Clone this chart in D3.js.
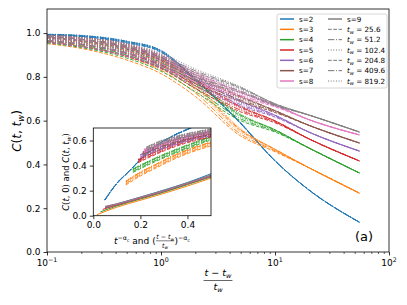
<!DOCTYPE html>
<html>
<head>
<meta charset="utf-8">
<script src="https://cdn.jsdelivr.net/npm/d3@7"></script>
<style>
body { margin: 0; background: #fff; }
text { font-family: "DejaVu Sans", sans-serif; white-space: pre; }
</style>
</head>
<body>
<svg id="chart" width="407" height="305"></svg>
<script>
// series names
const sLabels = ["s=2", "s=3", "s=4", "s=5", "s=6", "s=7", "s=8", "s=9"];
const twValues = ["25.6", "51.2", "102.4", "204.8", "409.6", "819.2"];

// main panel: C(t,tw) vs (t-tw)/tw, read at these x values (largest tw curve)
const xGrid = [0.1, 0.2, 0.5, 1, 2, 5, 10, 20, 55];
const mainC = [
  [0.995, 0.99, 0.964, 0.922, 0.792, 0.590, 0.417, 0.282, 0.136],
  [0.99, 0.979, 0.943, 0.886, 0.771, 0.563, 0.469, 0.384, 0.269],
  [0.99, 0.979, 0.946, 0.891, 0.787, 0.630, 0.558, 0.474, 0.361],
  [0.99, 0.979, 0.948, 0.896, 0.797, 0.667, 0.599, 0.516, 0.416],
  [0.99, 0.979, 0.948, 0.899, 0.807, 0.693, 0.625, 0.547, 0.461],
  [0.99, 0.979, 0.950, 0.902, 0.818, 0.714, 0.646, 0.578, 0.498],
  [0.99, 0.979, 0.951, 0.905, 0.826, 0.735, 0.672, 0.604, 0.535],
  [0.99, 0.979, 0.953, 0.908, 0.836, 0.755, 0.677, 0.625, 0.548]
];
// how far each smaller tw curve sits below the largest tw one
const twDrop = [
  [-0.035, -0.045, -0.060, -0.065, -0.055, -0.030, -0.010, 0, 0],
  [-0.026, -0.034, -0.046, -0.050, -0.040, -0.022, -0.006, 0, 0],
  [-0.018, -0.025, -0.034, -0.036, -0.028, -0.014, -0.003, 0, 0],
  [-0.011, -0.016, -0.022, -0.024, -0.018, -0.008, 0, 0, 0],
  [-0.005, -0.008, -0.011, -0.012, -0.009, -0.004, 0, 0, 0],
  [0, 0, 0, 0, 0, 0, 0, 0, 0]
];
const sSpread = [0.15, 1.1, 1.0, 0.9, 0.9, 0.9, 0.9, 0.9];

// inset, upper group: C(t,tw) vs ((t-tw)/tw)^-ac
const insUpX = [
  [0.049, 0.1, 0.155, 0.2, 0.268, 0.35, 0.41, 0.5],
  [0.138, 0.2, 0.268, 0.35, 0.41, 0.5],
  [0.168, 0.25, 0.337, 0.42, 0.5],
  [0.19, 0.27, 0.35, 0.43, 0.5],
  [0.2, 0.28, 0.36, 0.44, 0.5],
  [0.21, 0.28, 0.36, 0.44, 0.5],
  [0.215, 0.28, 0.36, 0.44, 0.5],
  [0.226, 0.28, 0.36, 0.44, 0.5]
];
const insUpY = [
  [0.128, 0.26, 0.362, 0.45, 0.56, 0.65, 0.70, 0.78],
  [0.278, 0.35, 0.415, 0.49, 0.535, 0.59],
  [0.375, 0.45, 0.52, 0.58, 0.635],
  [0.45, 0.52, 0.58, 0.625, 0.655],
  [0.49, 0.55, 0.60, 0.64, 0.665],
  [0.51, 0.565, 0.615, 0.652, 0.675],
  [0.53, 0.58, 0.628, 0.663, 0.685],
  [0.55, 0.595, 0.64, 0.673, 0.695]
];
const insTwDrop = [-0.03, -0.022, -0.015, -0.008, -0.003, 0];

// inset, lower group: C(t,0) vs t^-ac
const insLoX = [
  [0.05, 0.1, 0.2, 0.3, 0.4, 0.5],
  [0.015, 0.1, 0.2, 0.3, 0.4, 0.5],
  [0.03, 0.1, 0.2, 0.3, 0.4, 0.5],
  [0.04, 0.1, 0.2, 0.3, 0.4, 0.5],
  [0.05, 0.1, 0.2, 0.3, 0.4, 0.5],
  [0.05, 0.1, 0.2, 0.3, 0.4, 0.5],
  [0.05, 0.1, 0.2, 0.3, 0.4, 0.5],
  [0.05, 0.1, 0.2, 0.3, 0.4, 0.5]
];
const insLoY = [
  [0.062, 0.092, 0.148, 0.205, 0.265, 0.335],
  [0.008, 0.068, 0.123, 0.178, 0.237, 0.300],
  [0.030, 0.078, 0.133, 0.188, 0.248, 0.310],
  [0.050, 0.085, 0.139, 0.194, 0.254, 0.315],
  [0.068, 0.090, 0.143, 0.197, 0.257, 0.318],
  [0.070, 0.092, 0.145, 0.199, 0.259, 0.320],
  [0.072, 0.094, 0.147, 0.200, 0.260, 0.322],
  [0.074, 0.096, 0.149, 0.202, 0.262, 0.325]
];

const xTicks = [0.1, 1, 10, 100];
const xTickExp = ["\u22121", "0", "1", "2"];
const yTicks = [0, 0.2, 0.4, 0.6, 0.8, 1.0];
const insXTicks = [0, 0.2, 0.4];
const insYTicks = [0, 0.2, 0.4, 0.6];

const colors = ["#1f77b4", "#ff7f0e", "#2ca02c", "#d62728", "#9467bd", "#8c564b", "#e377c2", "#7f7f7f"];
const twStyle = ["--", "-.", ":", "--", "-.", ":"];
const dashOf = { "--": "3.7,1.6", "-.": "6.4,1.6,1,1.6", ":": "1,1.65" };

const svg = d3.select("#chart");

const x = d3.scaleLog().domain([0.1, 100]).range([47, 389]);
const y = d3.scaleLinear().domain([0, 1.11]).range([252, 9]);

// places a run of text pieces left to right, returns the end x
function seq(g, parts, x0, y0, size) {
  let cx = x0;
  parts.forEach(p => {
    const [str, it, sc, dy] = p;
    const t = g.append("text").attr("x", cx).attr("y", y0 + (dy || 0))
      .attr("font-size", size * (sc || 1)).text(str);
    if (it) t.attr("font-style", "italic");
    cx += t.node().getComputedTextLength();
  });
  return cx;
}

svg.append("clipPath").attr("id", "mainclip")
  .append("rect").attr("x", 47).attr("y", 9).attr("width", 342).attr("height", 243);

// main curves
const line = d3.line().x(d => x(d[0])).y(d => y(d[1])).curve(d3.curveMonotoneX);
const mainG = svg.append("g").attr("clip-path", "url(#mainclip)");
mainC.forEach((vals, i) => {
  twDrop.forEach((drop, j) => {
    const pts = xGrid.map((xv, k) => [xv, vals[k] + drop[k] * sSpread[i]]);
    mainG.append("path").attr("d", line(pts))
      .attr("fill", "none").attr("stroke", colors[i]).attr("stroke-width", 0.9)
      .attr("stroke-dasharray", dashOf[twStyle[j]]);
  });
});

// main axes
const minor = [];
[0.1, 1, 10].forEach(dec => d3.range(2, 10).forEach(m => minor.push(m * dec)));
svg.append("g").attr("transform", "translate(0,252)")
  .call(d3.axisBottom(x).tickValues(minor).tickSize(2).tickFormat(""))
  .call(g => g.select(".domain").remove())
  .call(g => g.selectAll("line").attr("stroke-width", 0.6));
svg.append("g").attr("transform", "translate(0,252)")
  .call(d3.axisBottom(x).tickValues(xTicks).tickSize(3.5).tickFormat(""))
  .call(g => g.select(".domain").remove())
  .call(g => g.selectAll("line").attr("stroke-width", 0.8));
xTicks.forEach((v, i) => {
  const g = svg.append("g");
  const end = seq(g, [["10"], [xTickExp[i], false, 0.7, -4]], 0, 266, 9);
  g.attr("transform", `translate(${x(v) - end / 2},0)`);
});
svg.append("g").attr("transform", "translate(47,0)")
  .call(d3.axisLeft(y).tickValues(yTicks).tickSize(3.5).tickPadding(3)
    .tickFormat(d3.format(".1f")))
  .call(g => g.select(".domain").remove())
  .call(g => g.selectAll("line").attr("stroke-width", 0.8))
  .call(g => g.selectAll("text").attr("font-size", 9).attr("font-family", "DejaVu Sans").attr("fill", "#000"));
svg.append("rect").attr("x", 47).attr("y", 9).attr("width", 342).attr("height", 243)
  .attr("fill", "none").attr("stroke", "#000").attr("stroke-width", 0.8);

// y label
{
  const g = svg.append("g").attr("transform", "translate(21,131) rotate(-90)");
  const inner = g.append("g");
  const end = seq(inner, [["C", true], ["("], ["t", true], [", "], ["t", true],
    ["w", true, 0.7, 2.5], [")"]], 0, 0, 12);
  inner.attr("transform", `translate(${-end / 2},0)`);
}
// x label fraction
{
  const cx = 218;
  const num = svg.append("g");
  const w1 = seq(num, [["t", true], [" \u2212 "], ["t", true], ["w", true, 0.7, 2]], 0, 276, 9.5);
  num.attr("transform", `translate(${cx - w1 / 2},0)`);
  const den = svg.append("g");
  const w2 = seq(den, [["t", true], ["w", true, 0.7, 2]], 0, 290, 9.5);
  den.attr("transform", `translate(${cx - w2 / 2},0)`);
  svg.append("line").attr("x1", cx - w1 / 2 - 1).attr("x2", cx + w1 / 2 + 1)
    .attr("y1", 280.5).attr("y2", 280.5).attr("stroke", "#000").attr("stroke-width", 0.6);
}

// (a)
svg.append("text").attr("x", 364).attr("y", 241).attr("text-anchor", "middle")
  .attr("font-size", 13).text("(a)");

// legend
{
  const lg = svg.append("g");
  lg.append("rect").attr("x", 277).attr("y", 14).attr("width", 110).attr("height", 74)
    .attr("rx", 2).attr("fill", "#fff").attr("fill-opacity", 0.8)
    .attr("stroke", "#cccccc").attr("stroke-width", 0.8);
  const rowY = d3.scaleLinear().domain([0, 6]).range([19, 81]);
  sLabels.forEach((lab, i) => {
    const col = i < 7 ? 0 : 1;
    const r = i < 7 ? i : 0;
    const lx = col === 0 ? 280 : 328;
    lg.append("line").attr("x1", lx).attr("x2", lx + 14).attr("y1", rowY(r)).attr("y2", rowY(r))
      .attr("stroke", colors[i]).attr("stroke-width", 1.5);
    lg.append("text").attr("x", lx + 19).attr("y", rowY(r) + 2.6).attr("font-size", 7.2).text(lab);
  });
  twValues.forEach((tw, j) => {
    const r = j + 1;
    lg.append("line").attr("x1", 328).attr("x2", 342).attr("y1", rowY(r)).attr("y2", rowY(r))
      .attr("stroke", "#777").attr("stroke-width", 1)
      .attr("stroke-dasharray", dashOf[twStyle[j]]);
    seq(lg, [["t", true], ["w", true, 0.7, 1.6], [" = " + tw]], 347, rowY(r) + 2.6, 7.2);
  });
}

// inset
const ix = d3.scaleLinear().domain([0, 0.5]).range([93.3, 211]);
const iy = d3.scaleLinear().domain([0, 0.7]).range([215.7, 128]);
svg.append("rect").attr("x", 93.3).attr("y", 128).attr("width", 117.7).attr("height", 87.7)
  .attr("fill", "#fff");
svg.append("clipPath").attr("id", "insclip")
  .append("rect").attr("x", 93.3).attr("y", 128).attr("width", 117.7).attr("height", 87.7);
const iline = d3.line().x(d => ix(d[0])).y(d => iy(d[1])).curve(d3.curveMonotoneX);
const insG = svg.append("g").attr("clip-path", "url(#insclip)");
insLoX.forEach((xs, i) => {
  const pts = xs.map((xv, k) => [xv, insLoY[i][k]]);
  insG.append("path").attr("d", iline(pts)).attr("fill", "none")
    .attr("stroke", colors[i]).attr("stroke-width", 1);
});
insUpX.forEach((xs, i) => {
  insTwDrop.forEach((drop, j) => {
    const pts = xs.map((xv, k) => [xv, insUpY[i][k] + drop * sSpread[i]]);
    insG.append("path").attr("d", iline(pts)).attr("fill", "none")
      .attr("stroke", colors[i]).attr("stroke-width", 0.9)
      .attr("stroke-dasharray", dashOf[twStyle[j]]);
  });
});
svg.append("g").attr("transform", "translate(0,215.7)")
  .call(d3.axisBottom(ix).tickValues(insXTicks).tickSize(3.5).tickPadding(2).tickFormat(d3.format(".1f")))
  .call(g => g.select(".domain").remove())
  .call(g => g.selectAll("line").attr("stroke-width", 0.8))
  .call(g => g.selectAll("text").attr("font-size", 9).attr("font-family", "DejaVu Sans").attr("fill", "#000"));
svg.append("g").attr("transform", "translate(93.3,0)")
  .call(d3.axisLeft(iy).tickValues(insYTicks).tickSize(3.5).tickPadding(3).tickFormat(d3.format(".1f")))
  .call(g => g.select(".domain").remove())
  .call(g => g.selectAll("line").attr("stroke-width", 0.8))
  .call(g => g.selectAll("text").attr("font-size", 9).attr("font-family", "DejaVu Sans").attr("fill", "#000"));
svg.append("rect").attr("x", 93.3).attr("y", 128).attr("width", 117.7).attr("height", 87.7)
  .attr("fill", "none").attr("stroke", "#000").attr("stroke-width", 0.8);

// inset y label
{
  const g = svg.append("g").attr("transform", "translate(69,172) rotate(-90)");
  const inner = g.append("g");
  const end = seq(inner, [["C", true], ["("], ["t", true], [", 0) and "], ["C", true], ["("],
    ["t", true], [", "], ["t", true], ["w", true, 0.7, 2], [")"]], 0, 0, 8.5);
  inner.attr("transform", `translate(${-end / 2},0)`);
}
// inset x label
{
  const g = svg.append("g");
  const base = 244, fs = 9;
  let cx = seq(g, [["t", true], ["\u2212\u03b1", false, 0.7, -4], ["c", false, 0.5, -2.5],
    [" and ("]], 0, base, fs);
  const fsz = 6.3;
  const num = g.append("g");
  const w1 = seq(num, [["t", true], [" \u2212 "], ["t", true], ["w", true, 0.7, 1.3]], 0, base - 4.8, fsz);
  const den = g.append("g");
  const w2 = seq(den, [["t", true], ["w", true, 0.7, 1.3]], 0, base + 3.6, fsz);
  num.attr("transform", `translate(${cx + 0.5},0)`);
  den.attr("transform", `translate(${cx + 0.5 + (w1 - w2) / 2},0)`);
  g.append("line").attr("x1", cx + 0.3).attr("x2", cx + w1 + 0.7)
    .attr("y1", base - 3.2).attr("y2", base - 3.2).attr("stroke", "#000").attr("stroke-width", 0.5);
  cx += w1 + 1;
  cx = seq(g, [[")"], ["\u2212\u03b1", false, 0.7, -4], ["c", false, 0.5, -2.5]], cx, base, fs);
  g.attr("transform", `translate(${152 - cx / 2},0)`);
}
</script>
</body>
</html>
